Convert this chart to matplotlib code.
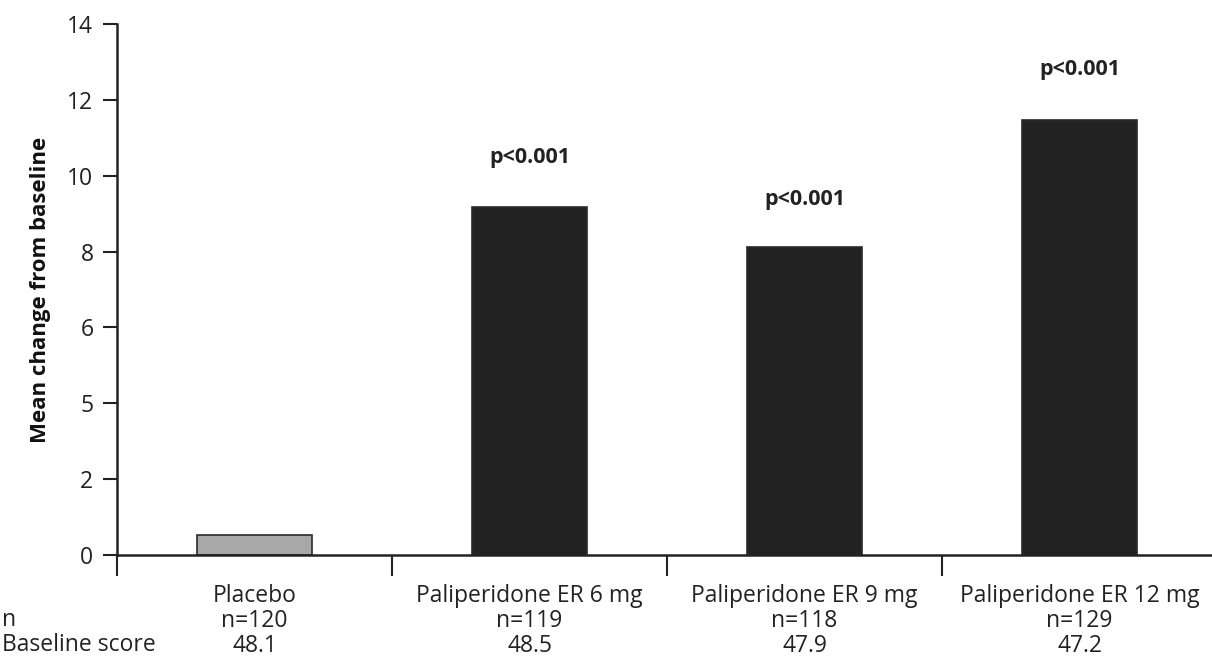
import matplotlib.pyplot as plt

groups = ["Placebo", "Paliperidone ER 6 mg", "Paliperidone ER 9 mg", "Paliperidone ER 12 mg"]
mean_change = [0.53, 9.18, 8.13, 11.48]
n_values = ["n=120", "n=119", "n=118", "n=129"]
baseline = ["48.1", "48.5", "47.9", "47.2"]
p_labels = ["", "p<0.001", "p<0.001", "p<0.001"]
p_heights = [0, 10.47, 9.37, 12.8]
ytick_vals = [0, 2, 4, 6, 8, 10, 12, 14]
ytick_text = ["0", "2", "5", "6", "8", "10", "12", "14"]

plt.rcParams['font.family'] = ['Open Sans', 'DejaVu Sans']

fig = plt.figure(figsize=(12.12, 6.6), dpi=100)
ax = fig.add_axes([117 / 1212, 105 / 660, 1100 / 1212, 531 / 660])

colors = ["#a8a8a8"] + ["#222222"] * 3
x = list(range(len(groups)))
ax.bar(x, mean_change, width=0.42, color=colors, edgecolor="#2a2a2a", linewidth=1.2)

# significance labels above the active arms
for xi, p, h in zip(x, p_labels, p_heights):
    if p:
        ax.text(xi, h, p, ha="center", va="center", fontsize=15.5, fontweight="bold", color="#222222")

ax.set_xlim(-0.5, 3.5)
ax.set_ylim(0, 14)
ax.set_yticks(ytick_vals)
ax.set_yticklabels(ytick_text, fontsize=16.5, color="#222222")
ax.set_xticks([-0.5, 0.5, 1.5, 2.5, 3.5])
ax.set_xticklabels([])
ax.tick_params(axis="y", direction="out", length=10, width=1.5, pad=7, color="#222222")
ax.tick_params(axis="x", direction="out", length=15, width=1.5, color="#222222")

for side in ["top", "right"]:
    ax.spines[side].set_visible(False)
for side in ["left", "bottom"]:
    ax.spines[side].set_linewidth(1.8)
    ax.spines[side].set_color("#222222")

ax.set_ylabel("Mean change from baseline", fontsize=16, fontweight="bold", labelpad=12, color="#111111")

# table of group labels, n and baseline score under the axis
trans = ax.get_xaxis_transform()
for xi, g, nv, b in zip(x, groups, n_values, baseline):
    ax.text(xi, -0.077, g, transform=trans, ha="center", va="center", fontsize=16.5, color="#222222")
    ax.text(xi, -0.124, nv, transform=trans, ha="center", va="center", fontsize=16.5, color="#222222")
    ax.text(xi, -0.171, b, transform=trans, ha="center", va="center", fontsize=16.5, color="#222222")

fig.text(2 / 1212, 1 - 620 / 660, "n", ha="left", va="center", fontsize=16.5, color="#222222")
fig.text(2 / 1212, 1 - 645 / 660, "Baseline score", ha="left", va="center", fontsize=16.5, color="#222222")

fig.savefig("out.png", dpi=100)
